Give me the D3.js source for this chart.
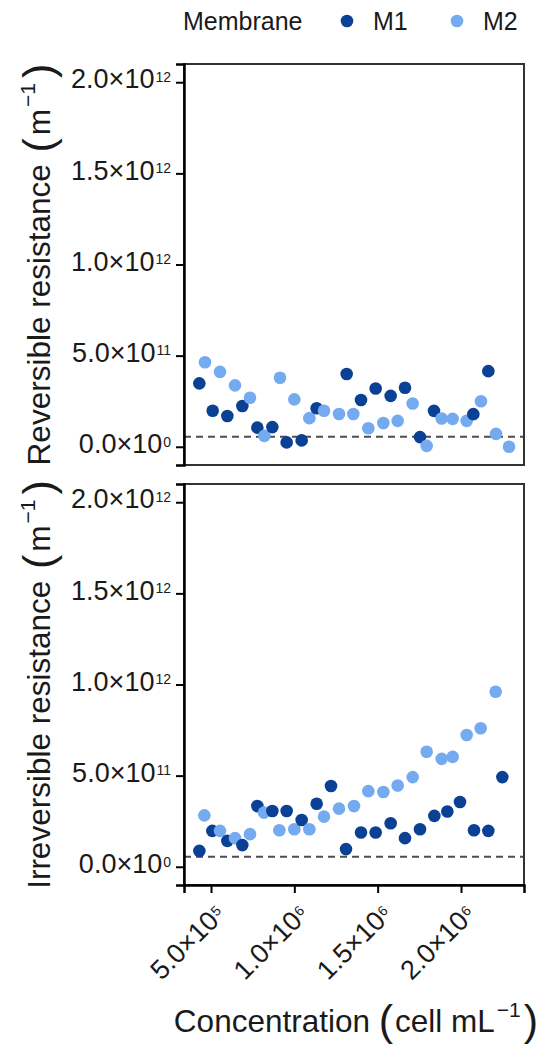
<!DOCTYPE html>
<html>
<head>
<meta charset="utf-8">
<script src="https://cdn.jsdelivr.net/npm/d3@7"></script>
<style>
  body { margin: 0; background: #fff; }
  text { font-family: "Liberation Sans", Arial, sans-serif; fill: #1a1a1a; }
</style>
</head>
<body>
<div id="viz"></div>
<script>
const width = 550;
const height = 1051;
const panelLeft = 184, panelRight = 524;
const panels = [{top: 64, bottom: 465}, {top: 484, bottom: 885}];

// membranes
const membranes = ['M1', 'M2'];
const membraneColors = ['#0a4194', '#74aaf0'];

// Reversible resistance, M1 and M2 (concentration in cell/mL, resistance in 1/m)
const revM1Conc = [4.3e5, 5.1e5, 5.98e5, 6.88e5, 7.78e5, 8.68e5, 9.54e5, 1.044e6, 1.134e6, 1.314e6, 1.4e6, 1.488e6, 1.578e6, 1.664e6, 1.754e6, 1.838e6, 2.074e6, 2.164e6];
const revM1Val  = [3.48e11, 1.98e11, 1.69e11, 2.24e11, 1.05e11, 1.08e11, 2.4e10, 3.5e10, 2.11e11, 3.99e11, 2.57e11, 3.2e11, 2.79e11, 3.24e11, 5.3e10, 1.97e11, 1.79e11, 4.15e11];
const revM2Conc = [4.64e5, 5.54e5, 6.44e5, 7.34e5, 8.2e5, 9.14e5, 1.0e6, 1.09e6, 1.178e6, 1.268e6, 1.354e6, 1.444e6, 1.534e6, 1.62e6, 1.71e6, 1.794e6, 1.884e6, 1.95e6, 2.034e6, 2.12e6, 2.21e6, 2.288e6];
const revM2Val  = [4.64e11, 4.11e11, 3.37e11, 2.69e11, 6.0e10, 3.79e11, 2.6e11, 1.57e11, 1.98e11, 1.8e11, 1.8e11, 1.02e11, 1.3e11, 1.42e11, 2.37e11, 5e9, 1.55e11, 1.53e11, 1.42e11, 2.5e11, 7.1e10, 0];

// Irreversible resistance, M1 and M2
const irrM1Conc = [4.3e5, 5.08e5, 5.98e5, 6.88e5, 7.78e5, 8.68e5, 9.54e5, 1.044e6, 1.134e6, 1.22e6, 1.31e6, 1.4e6, 1.488e6, 1.578e6, 1.664e6, 1.754e6, 1.84e6, 1.918e6, 1.994e6, 2.078e6, 2.164e6, 2.248e6];
const irrM1Val  = [8.7e10, 1.97e11, 1.42e11, 1.19e11, 3.33e11, 3.06e11, 3.06e11, 2.57e11, 3.46e11, 4.43e11, 9.7e10, 1.88e11, 1.88e11, 2.39e11, 1.57e11, 2.06e11, 2.79e11, 3.03e11, 3.55e11, 2.0e11, 1.97e11, 4.92e11];
const irrM2Conc = [4.6e5, 5.54e5, 6.44e5, 7.34e5, 8.18e5, 9.1e5, 1.0e6, 1.09e6, 1.178e6, 1.268e6, 1.358e6, 1.444e6, 1.534e6, 1.62e6, 1.71e6, 1.794e6, 1.884e6, 1.95e6, 2.034e6, 2.118e6, 2.208e6];
const irrM2Val  = [2.82e11, 1.97e11, 1.57e11, 1.79e11, 2.97e11, 2.0e11, 2.06e11, 2.06e11, 2.75e11, 3.19e11, 3.33e11, 4.15e11, 4.1e11, 4.46e11, 4.92e11, 6.31e11, 5.92e11, 6.03e11, 7.23e11, 7.6e11, 9.6e11];

// reference line and ticks
const refLine = 5.5e10;
const xTicks = [5e5, 1e6, 1.5e6, 2e6];
const yTicks = [0, 5e11, 1e12, 1.5e12, 2e12];
const yTitles = ['Reversible resistance', 'Irreversible resistance'];

function toPoints(conc, val, m) {
  return conc.map((c, i) => ({conc: c, val: val[i], membrane: m}));
}
const panelData = [
  toPoints(revM1Conc, revM1Val, 'M1').concat(toPoints(revM2Conc, revM2Val, 'M2')),
  toPoints(irrM1Conc, irrM1Val, 'M1').concat(toPoints(irrM2Conc, irrM2Val, 'M2'))
].map(d => d.sort((a, b) => a.conc - b.conc));

const color = d3.scaleOrdinal().domain(membranes).range(membraneColors);
const x = d3.scaleLinear().domain([3.38e5, 2.378e6]).range([panelLeft, panelRight]);

// write "a.b×10^n" with the exponent raised
function sciText(textSel, v, mainSize, supSize) {
  const e = v === 0 ? 0 : Math.floor(Math.log10(v));
  const m = v === 0 ? 0 : v / Math.pow(10, e);
  textSel.text(null).attr('font-size', null);
  textSel.append('tspan').attr('font-size', mainSize).text(m.toFixed(1) + '×10');
  textSel.append('tspan').attr('font-size', supSize).attr('dx', 1).attr('dy', -mainSize * 0.24).text(e);
}

const svg = d3.select('#viz')
  .append('svg')
    .attr('width', width)
    .attr('height', height);

panels.forEach((p, k) => {
  const y = d3.scaleLinear().domain([-1e11, 2.1e12]).range([p.bottom, p.top]);
  const g = svg.append('g');

  // dashed reference line
  g.append('line')
    .attr('x1', panelLeft).attr('x2', panelRight)
    .attr('y1', y(refLine)).attr('y2', y(refLine))
    .attr('stroke', '#4d4d4d')
    .attr('stroke-width', 2)
    .attr('stroke-dasharray', '7,5');

  g.selectAll('circle')
    .data(panelData[k])
    .join('circle')
      .attr('cx', d => x(d.conc))
      .attr('cy', d => y(d.val))
      .attr('r', 6.3)
      .attr('fill', d => color(d.membrane));

  // panel border
  g.append('rect')
    .attr('x', panelLeft).attr('y', p.top)
    .attr('width', panelRight - panelLeft).attr('height', p.bottom - p.top)
    .attr('fill', 'none')
    .attr('stroke', '#333')
    .attr('stroke-width', 2);

  const yAxis = g.append('g')
    .attr('transform', `translate(${panelLeft},0)`)
    .call(d3.axisLeft(y).tickValues(yTicks).tickSize(8).tickPadding(5));
  yAxis.attr('font-size', null);
  yAxis.select('.domain').attr('stroke', '#000').attr('stroke-width', 2.5);
  yAxis.selectAll('.tick line').attr('stroke', '#000').attr('stroke-width', 2);
  yAxis.selectAll('.tick text')
    .attr('fill', '#333')
    .attr('dy', '0.36em')
    .each(function(d) { sciText(d3.select(this), d, 27, 14); });

  // y title
  const yt = svg.append('text')
    .attr('transform', `translate(50,${(p.top + p.bottom) / 2}) rotate(-90)`)
    .attr('text-anchor', 'middle')
    .attr('font-size', 31.5);
  yt.append('tspan').text(yTitles[k] + ' ');
  yt.append('tspan').attr('font-size', 43).attr('dx', 3).attr('dy', 3).text('(');
  yt.append('tspan').attr('dx', 3).attr('dy', -3).text('m');
  yt.append('tspan').attr('font-size', 21).attr('dx', 2).attr('dy', -15).text('−1');
  yt.append('tspan').attr('font-size', 43).attr('dx', 5).attr('dy', 18).text(')');

  if (k === 1) {
    const xAxis = g.append('g')
      .attr('transform', `translate(0,${p.bottom})`)
      .call(d3.axisBottom(x).tickValues(xTicks).tickSize(8).tickPadding(4));
    xAxis.attr('font-size', null);
    xAxis.select('.domain').attr('stroke', '#000').attr('stroke-width', 2.5);
    xAxis.selectAll('.tick line').attr('stroke', '#000').attr('stroke-width', 2);
    xAxis.selectAll('.tick text')
      .attr('fill', '#333')
      .attr('text-anchor', 'end')
      .attr('transform', 'translate(11,27) rotate(-45)')
      .attr('dy', '0.36em')
      .attr('y', 0)
      .each(function(d) { sciText(d3.select(this), d, 27, 14); });
  }
});

// x title
const xt = svg.append('text')
  .attr('x', (panelLeft + panelRight) / 2 + 2)
  .attr('y', 1032)
  .attr('text-anchor', 'middle')
  .attr('font-size', 31.5);
xt.append('tspan').text('Concentration ');
xt.append('tspan').attr('font-size', 43).attr('dy', 3).text('(');
xt.append('tspan').attr('dx', 2).attr('dy', -3).text('cell mL');
xt.append('tspan').attr('font-size', 21).attr('dx', 2).attr('dy', -15).text('−1');
xt.append('tspan').attr('font-size', 43).attr('dx', 3).attr('dy', 18).text(')');

// legend
const legend = svg.append('g');
legend.append('text')
  .attr('x', 183).attr('y', 30)
  .attr('font-size', 25)
  .text('Membrane');
const legendX = [347, 457];
membranes.forEach((m, i) => {
  legend.append('circle')
    .attr('cx', legendX[i]).attr('cy', 21)
    .attr('r', 6.3)
    .attr('fill', color(m));
  legend.append('text')
    .attr('x', legendX[i] + 26).attr('y', 30)
    .attr('font-size', 25)
    .text(m);
});
</script>
</body>
</html>
